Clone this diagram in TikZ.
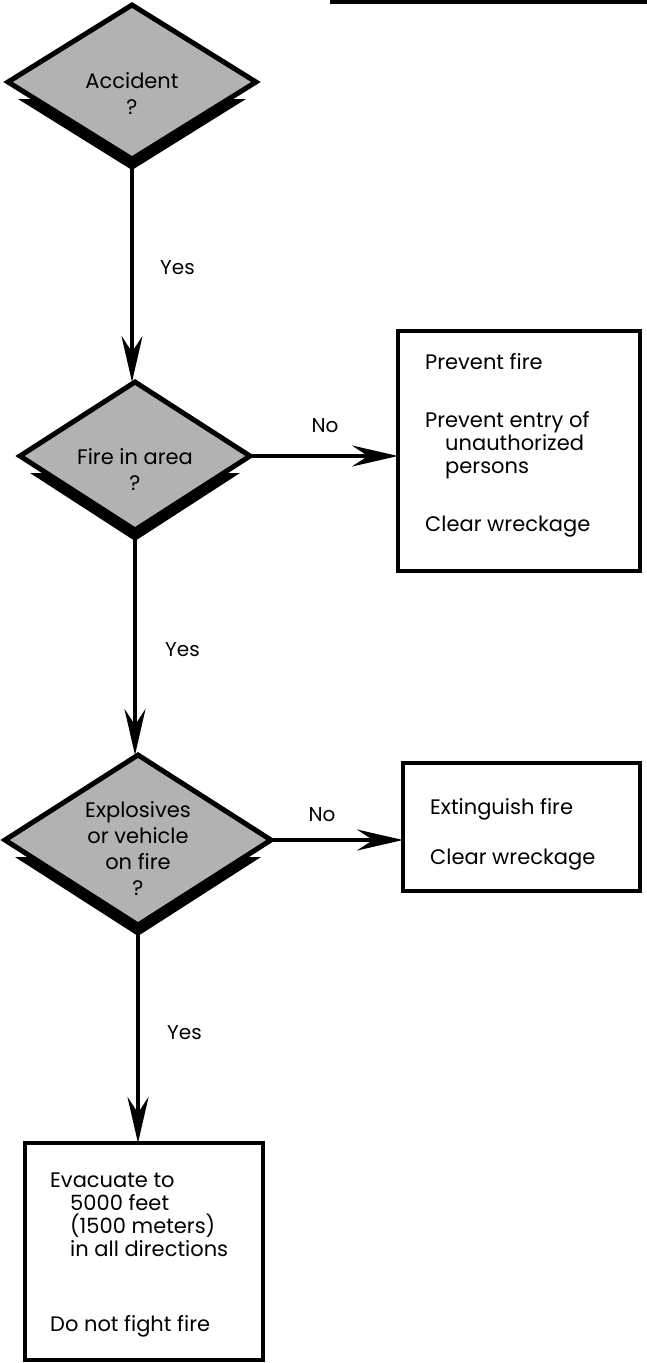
\documentclass[tikz,border=0pt]{standalone}
\usepackage{fontspec}
\setmainfont{Poppins}
\usetikzlibrary{arrows.meta,shapes.geometric,calc}
\pgfdeclarelayer{background}
\pgfsetlayers{background,main}

\tikzset{
  dia/.style={diamond, draw=black, line width=5pt, fill=black!30,
              inner sep=0pt, outer sep=0pt},
  box/.style={rectangle, draw=black, line width=4.5pt, fill=white,
              inner sep=0pt, outer sep=0pt},
  dtext/.style={align=center, inner sep=0pt,
                font=\fontsize{21}{26}\selectfont},
  btext/.style={align=left, inner sep=0pt, anchor=north west,
                font=\fontsize{21}{23}\selectfont},
  lbl/.style={inner sep=0pt, font=\fontsize{20}{22}\selectfont},
  flow/.style={line width=4.5pt,
               -{Stealth[length=46pt,width=21pt,inset=16pt]}},
}

% shadow wedge below a decision diamond
\newcommand{\dshadow}[1]{%
  \begin{pgfonlayer}{background}
    \fill[black] ($(#1.west)+(10,17)$) -- ($(#1.south)+(0,11)$)
                 -- ($(#1.east)+(-10,17)$) -- cycle;
  \end{pgfonlayer}}

\begin{document}
\begin{tikzpicture}[x=1pt,y=-1pt]
\useasboundingbox (0,0) rectangle (647,1363);

% rule at the top edge
\coordinate (ruleA) at (330,2);
\coordinate (ruleB) at (647,2);
\draw[line width=4.5pt] (ruleA) -- (ruleB);

% decisions
\node[dia, minimum width=248pt, minimum height=154pt] (d1) at (132,82) {};
\dshadow{d1}
\node[dtext] (t1) at (132,94) {Accident\\?};

\node[dia, minimum width=230pt, minimum height=148pt] (d2) at (135,456) {};
\dshadow{d2}
\node[dtext] (t2) at (135,470) {Fire in area\\?};

\node[dia, minimum width=266pt, minimum height=170pt] (d3) at (138,840) {};
\dshadow{d3}
\node[dtext] (t3) at (138,849) {Explosives\\or vehicle\\on fire\\?};

% actions
\node[box, minimum width=242pt, minimum height=240pt] (b1) at (519,451) {};
\node[btext] (bt1) at (425,353) {Prevent fire\\[35pt]
  Prevent entry of\\
  \hspace*{20pt}unauthorized\\
  \hspace*{20pt}persons\\[35pt]
  Clear wreckage};

\node[box, minimum width=237pt, minimum height=128pt] (b2) at (521.5,827) {};
\node[btext] (bt2) at (430,798) {Extinguish fire\\[27pt]Clear wreckage};

\node[box, minimum width=238pt, minimum height=217pt] (b3) at (144,1251.5) {};
\node[btext] (bt3) at (50,1173) {Evacuate to\\
  \hspace*{20pt}5000 feet\\
  \hspace*{20pt}(1500 meters)\\
  \hspace*{20pt}in all directions\\[52pt]
  Do not fight fire};

% connectors
\draw[flow] (d1.south) -- (d1.south |- d2.north);
\draw[flow] (d2.south) -- (d2.south |- d3.north);
\draw[flow] (d3.south) -- (d3.south |- b3.north);
\draw[flow] (d2.east) -- (d2.east -| b1.west);
\draw[flow] (d3.east) -- (d3.east -| b2.west);

% branch labels
\node[lbl, anchor=west] (y1) at (160,268) {Yes};
\node[lbl, anchor=west] (y2) at (165,650) {Yes};
\node[lbl, anchor=west] (y3) at (167,1033) {Yes};
\node[lbl] (n1) at (325,426) {No};
\node[lbl] (n2) at (322,815) {No};
\end{tikzpicture}
\end{document}
